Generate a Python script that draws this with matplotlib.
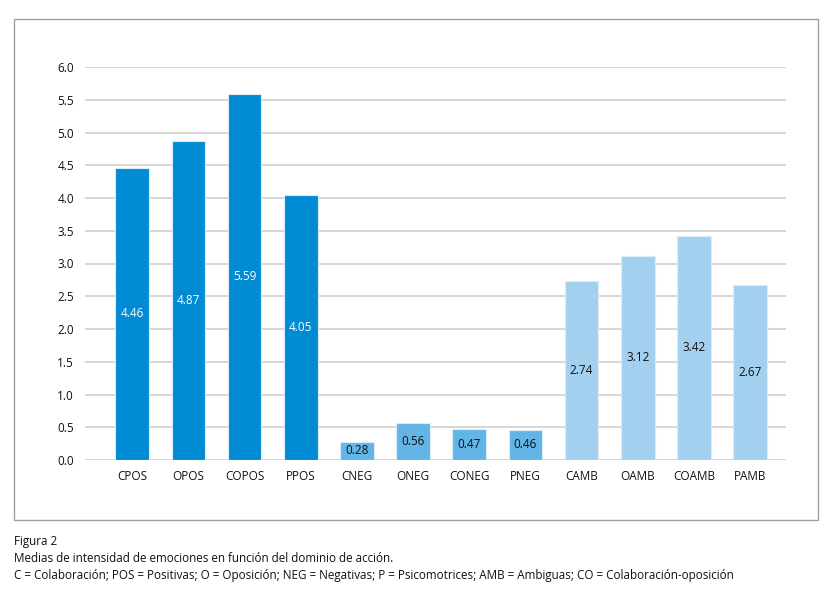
import matplotlib
matplotlib.use("Agg")
import matplotlib.pyplot as plt
from matplotlib.patches import Rectangle

categories = ["CPOS", "OPOS", "COPOS", "PPOS", "CNEG", "ONEG", "CONEG", "PNEG",
              "CAMB", "OAMB", "COAMB", "PAMB"]
values = [4.46, 4.87, 5.59, 4.05, 0.28, 0.56, 0.47, 0.46, 2.74, 3.12, 3.42, 2.67]
groups = ["pos"] * 4 + ["neg"] * 4 + ["amb"] * 4
yticks = [0.0, 0.5, 1.0, 1.5, 2.0, 2.5, 3.0, 3.5, 4.0, 4.5, 5.0, 5.5, 6.0]
caption = [
    "Figura 2",
    "Medias de intensidad de emociones en función del dominio de acción.",
    "C = Colaboración; POS = Positivas; O = Oposición; NEG = Negativas; "
    "P = Psicomotrices; AMB = Ambiguas; CO = Colaboración-oposición",
]

COLORS = {"pos": "#008bd2", "neg": "#62b5e6", "amb": "#a4d0f0"}
TEXT_COLORS = {"pos": "white", "neg": "#111111", "amb": "#111111"}

plt.rcParams["font.family"] = ["Open Sans", "DejaVu Sans"]

W, H = 833, 601
fig = plt.figure(figsize=(W / 100, H / 100), dpi=100)

# outer frame around the chart
fig.patches.append(Rectangle((14 / W, 1 - 520 / H), (818 - 14) / W, (520 - 19) / H,
                             transform=fig.transFigure, fill=False,
                             edgecolor="#a0a0a0", linewidth=1.0))

ax = fig.add_axes([85 / W, 141 / H, (786 - 85) / W, (460 - 67) / H])
x = list(range(len(categories)))
ax.bar(x, values, width=0.6,
       color=[COLORS[g] for g in groups],
       edgecolor="#dcecf8", linewidth=0.8, zorder=3)

for xi, v, g in zip(x, values, groups):
    ax.text(xi, v / 2, f"{v:.2f}", ha="center", va="center",
            fontsize=8.5, color=TEXT_COLORS[g], zorder=4)

ax.set_xlim(-0.84, 11.64)
ax.set_ylim(0, 6.0)
ax.set_yticks(yticks)
ax.set_yticklabels([f"{t:.1f}" for t in yticks])
ax.set_xticks(x)
ax.set_xticklabels(categories)
ax.tick_params(axis="both", length=0, labelsize=8.5, colors="#111111")
ax.tick_params(axis="y", pad=8)
ax.tick_params(axis="x", pad=7)
ax.grid(axis="y", color="#d6d6d6", linewidth=1.4, zorder=0)
for s in ax.spines.values():
    s.set_visible(False)

ys = [542, 559, 576]
for line, yy in zip(caption, ys):
    fig.text(14 / W, 1 - yy / H, line, ha="left", va="center",
             fontsize=8.4, color="#111111")

fig.savefig("out.png", dpi=100)
